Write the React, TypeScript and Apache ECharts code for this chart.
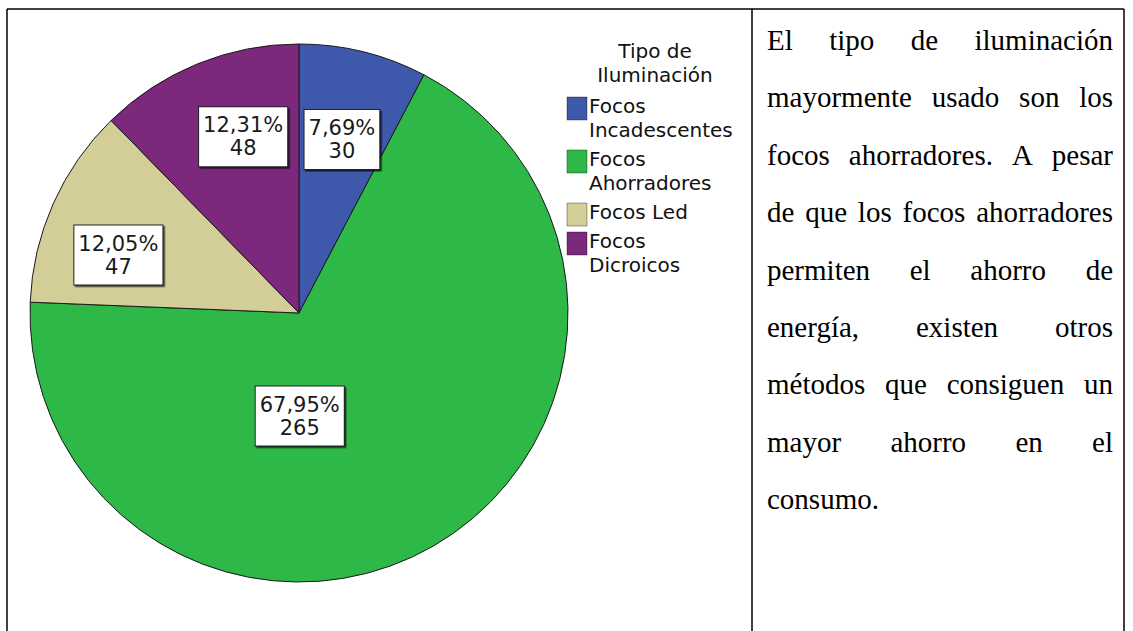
import React, { useEffect, useRef } from "react";
import * as echarts from "echarts";

// ---------- data ----------
const categories = ["Focos Incadescentes", "Focos Ahorradores", "Focos Led", "Focos Dicroicos"];
const legendLines = [["Focos", "Incadescentes"], ["Focos", "Ahorradores"], ["Focos Led"], ["Focos", "Dicroicos"]];
const counts = [30, 265, 47, 48];
const colors = ["#3E58AC", "#2EB848", "#D3CE97", "#7C287D"];
const legendTitle = ["Tipo de", "Iluminación"];
const paragraphLines = [
  "El tipo de iluminación",
  "mayormente usado son los",
  "focos ahorradores. A pesar",
  "de que los focos ahorradores",
  "permiten el ahorro de",
  "energía, existen otros",
  "métodos que consiguen un",
  "mayor ahorro en el",
  "consumo.",
];

// ---------- styling ----------
const W = 1133;
const H = 631;
const labelOffsets: [number, number][] = [[10, -40], [-68, -16], [-55, -2], [-4, -49]];
const SANS = "'DejaVu Sans', 'Liberation Sans', sans-serif";
const SERIF = "'Liberation Serif', 'Times New Roman', serif";
const PARA_SIZE = 29;

export default function App() {
  const ref = useRef<HTMLDivElement>(null);

  useEffect(() => {
    if (!ref.current) return;
    const chart = echarts.init(ref.current, undefined, { renderer: "svg" });

    const total = counts.reduce((a, b) => a + b, 0);
    const pct = counts.map((c) => ((c / total) * 100).toFixed(2).replace(".", ",") + "%");

    // measure words for justified paragraph
    const cv = document.createElement("canvas");
    const ctx = cv.getContext("2d")!;
    ctx.font = `${PARA_SIZE}px ${SERIF}`;
    const textLeft = 767;
    const textRight = 1113;
    const lineTop = 40;
    const lineStep = 57.4;
    const paraEls: any[] = [];
    paragraphLines.forEach((line, i) => {
      const words = line.split(" ");
      const y = lineTop + i * lineStep;
      const isLast = i === paragraphLines.length - 1;
      if (isLast || words.length === 1) {
        paraEls.push({
          type: "text", x: textLeft, y,
          style: { text: line, font: `${PARA_SIZE}px ${SERIF}`, fill: "#000", align: "left", verticalAlign: "middle" },
        });
        return;
      }
      const widths = words.map((w) => ctx.measureText(w).width);
      const sum = widths.reduce((a, b) => a + b, 0);
      const gap = (textRight - textLeft - sum) / (words.length - 1);
      let x = textLeft;
      words.forEach((w, k) => {
        paraEls.push({
          type: "text", x, y,
          style: { text: w, font: `${PARA_SIZE}px ${SERIF}`, fill: "#000", align: "left", verticalAlign: "middle" },
        });
        x += widths[k] + gap;
      });
    });

    // legend
    const legendEls: any[] = [];
    const lh = 24;
    legendTitle.forEach((t, i) => {
      legendEls.push({
        type: "text", x: 655, y: 51 + i * lh,
        style: { text: t, font: `20px ${SANS}`, fill: "#111", align: "center", verticalAlign: "middle" },
      });
    });
    let ly = 106;
    legendLines.forEach((lines, i) => {
      legendEls.push({
        type: "rect",
        shape: { x: 567, y: ly - 9, width: 20, height: 23 },
        style: { fill: colors[i], stroke: "rgba(0,0,0,0.35)", lineWidth: 1 },
      });
      lines.forEach((t, k) => {
        legendEls.push({
          type: "text", x: 589, y: ly + k * lh,
          style: { text: t, font: `20px ${SANS}`, fill: "#111", align: "left", verticalAlign: "middle" },
        });
      });
      ly += lines.length * lh + 5;
    });

    // frame lines
    const frame = [
      [7, 9, 1124, 9],
      [7, 9, 7, H],
      [752, 9, 752, H],
      [1124, 9, 1124, H],
    ].map(([x1, y1, x2, y2]) => ({
      type: "line",
      shape: { x1, y1, x2, y2 },
      style: { stroke: "#000", lineWidth: 1.5 },
    }));

    chart.setOption({
      animation: false,
      backgroundColor: "#fff",
      series: [
        {
          type: "pie",
          center: [299, 313],
          radius: 269,
          startAngle: 90,
          clockwise: true,
          silent: true,
          itemStyle: { borderColor: "#1a1a1a", borderWidth: 1 },
          labelLine: { show: false },
          data: categories.map((name, i) => ({
            name,
            value: counts[i],
            itemStyle: { color: colors[i] },
            label: {
              show: true,
              position: "inside",
              formatter: `${pct[i]}\n${counts[i]}`,
              offset: labelOffsets[i],
              fontFamily: SANS,
              fontSize: 21,
              lineHeight: 23,
              color: "#1a1a1a",
              align: "center",
              backgroundColor: "#fff",
              borderColor: "#222",
              borderWidth: 1,
              padding: [7, 4, 6, 4],
              shadowColor: "rgba(0,0,0,0.7)",
              shadowOffsetX: 1.5,
              shadowOffsetY: 1.5,
              shadowBlur: 0,
            },
          })),
        },
      ],
      graphic: [...frame, ...legendEls, ...paraEls],
    });

    return () => chart.dispose();
  }, []);

  return <div ref={ref} style={{ position: "fixed", left: 0, top: 0, width: W, height: H }} />;
}
